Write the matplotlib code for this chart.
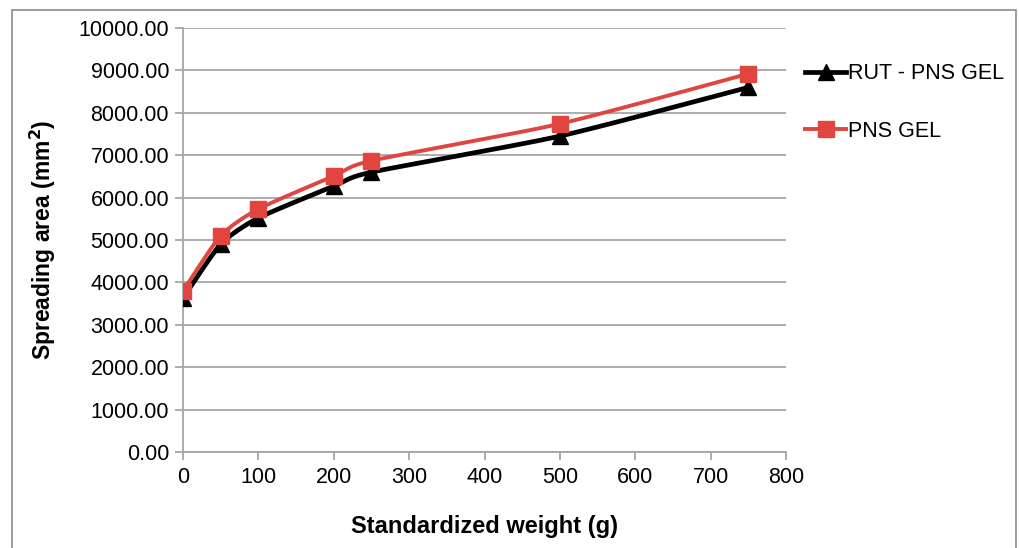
import numpy as np
import matplotlib.pyplot as plt
from matplotlib.patches import Rectangle

weights = [0, 50, 100, 200, 250, 500, 750]
rut_pns_gel = [3630, 4900, 5520, 6270, 6600, 7450, 8600]
pns_gel = [3800, 5100, 5730, 6510, 6870, 7740, 8920]


def smooth(x, y, n=30, k=9):
    # Bezier curve through the points, like a smoothed spreadsheet line
    x = np.asarray(x, float)
    y = np.asarray(y, float)
    px = np.concatenate([[x[0]], x, [x[-1]]])
    py = np.concatenate([[y[0]], y, [y[-1]]])
    xs, ys = [], []
    t = np.linspace(0, 1, n)
    for i in range(1, len(px) - 2):
        p0, p1, p2, p3 = (np.array([px[j], py[j]]) for j in range(i - 1, i + 3))
        c1 = p1 + (p2 - p0) / k
        c2 = p2 - (p3 - p1) / k
        pts = ((1 - t) ** 3)[:, None] * p1 + (3 * (1 - t) ** 2 * t)[:, None] * c1 \
            + (3 * (1 - t) * t ** 2)[:, None] * c2 + (t ** 3)[:, None] * p2
        xs.extend(pts[:, 0])
        ys.extend(pts[:, 1])
    return xs, ys


plt.rcParams['font.family'] = ['Liberation Sans', 'DejaVu Sans']

fig = plt.figure(figsize=(10.2, 5.48), dpi=100)
fig.patches.append(Rectangle((12 / 1020, -0.05), 1004 / 1020, 1 - 10 / 548 + 0.05,
                             transform=fig.transFigure, fill=False,
                             edgecolor='#8c8c8c', linewidth=1.2))
ax = fig.add_axes([183 / 1020, 1 - 452 / 548, 603 / 1020, 424 / 548])

grid_c = '#a6a6a6'
red = '#e04540'
sx, sy = smooth(weights, rut_pns_gel)
ax.plot(sx, sy, color='black', linewidth=3.4, zorder=3)
ax.plot(weights, rut_pns_gel, linestyle='none', marker='^', markersize=12,
        color='black', zorder=4)
sx, sy = smooth(weights, pns_gel)
ax.plot(sx, sy, color=red, linewidth=2.8, zorder=5)
ax.plot(weights, pns_gel, linestyle='none', marker='s', markersize=12,
        color=red, zorder=6)

# legend handles
ax.plot([], [], color='black', linewidth=3.4, marker='^', markersize=12,
        label='RUT - PNS GEL')
ax.plot([], [], color=red, linewidth=2.8, marker='s', markersize=12,
        label='PNS GEL')
ax.legend(loc='upper left', bbox_to_anchor=(1.0, 0.963), frameon=False,
          fontsize=15.5, handlelength=1.9, handletextpad=0.1, labelspacing=1.7)

ax.set_xlim(0, 800)
ax.set_ylim(0, 10000)
ax.set_xticks(range(0, 801, 100))
ax.set_yticks(range(0, 10001, 1000))
ax.set_yticklabels([f'{v:.2f}' for v in range(0, 10001, 1000)])
ax.grid(axis='y', color=grid_c, linewidth=1.3)
ax.set_axisbelow(True)
for side in ['top', 'right']:
    ax.spines[side].set_visible(False)
for side in ['left', 'bottom']:
    ax.spines[side].set_color(grid_c)
    ax.spines[side].set_linewidth(1.3)
ax.tick_params(axis='both', colors=grid_c, labelcolor='black', labelsize=15.5,
               length=6, width=1.3)
ax.tick_params(axis='x', pad=5)
ax.tick_params(axis='y', pad=4)

ax.set_xlabel('Standardized weight (g)', fontsize=17, fontweight='bold', labelpad=19)
ax.set_ylabel('Spreading area (mm$^\\mathbf{2}$)', fontsize=16.5, fontweight='bold',
              labelpad=15)

fig.savefig('out.png', dpi=100)
